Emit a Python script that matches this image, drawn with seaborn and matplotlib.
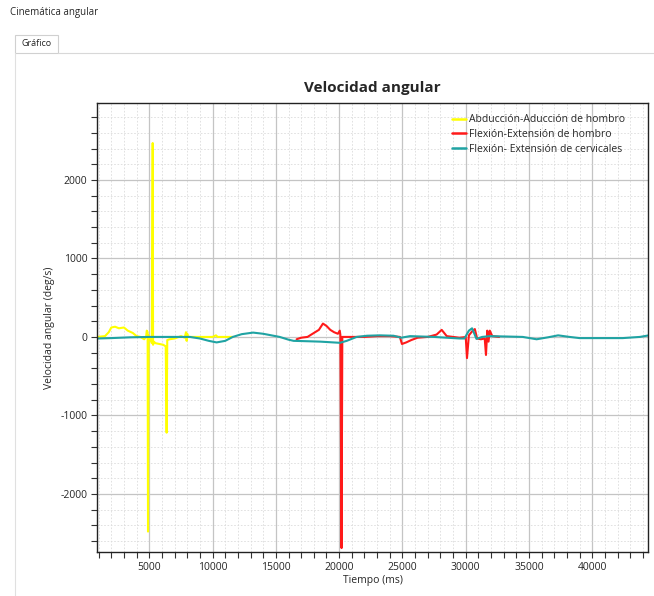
import numpy as np
import pandas as pd
import matplotlib
matplotlib.use("Agg")
import matplotlib.pyplot as plt
from matplotlib.ticker import MultipleLocator
from matplotlib.lines import Line2D
from matplotlib.patches import Rectangle
import seaborn as sns

# series: Abducción-Aducción de hombro
abd_t = [900, 1500, 1800, 2000, 2300, 2600, 3000, 3300, 3700, 4000, 4300, 4600, 4750, 4800,
         4870, 4900, 4950, 5200, 5270, 5300, 5350, 5500, 5800, 6100, 6300, 6370, 6420, 6600,
         7000, 7500, 7800, 7900, 7950, 8000, 8050, 8200, 9000, 10000, 10270, 10400, 11000, 11600]
abd_v = [0, 10, 60, 120, 130, 110, 120, 80, 50, 10, 0, -30, 0, 80,
         60, -2480, 20, -80, 2470, -100, -60, -80, -90, -100, -120, -1220, -40, -30,
         -20, 10, -10, 60, -50, 40, 0, 0, 0, 0, 20, 0, 0, 0]

# series: Flexión-Extensión de hombro
flex_t = [16640, 17000, 17500, 18000, 18400, 18720, 19000, 19300, 19600, 19900, 20050, 20100,
          20190, 20250, 20400, 21000, 22000, 23000, 24000, 24800, 24960, 25300, 25700, 26200,
          27000, 27700, 28100, 28500, 29000, 29500, 29800, 30000, 30100, 30250, 30500, 30720,
          30900, 31200, 31500, 31600, 31700, 31800, 31900, 32100, 32640]
flex_v = [-30, -10, 0, 50, 90, 170, 140, 90, 60, 40, 80, 20,
          -2690, 0, 0, 0, 0, 10, 10, 0, -90, -70, -40, -10,
          0, 30, 90, 10, 0, -10, -5, 0, -270, 20, 70, 100,
          -20, -30, -20, -230, 80, -60, 80, 10, 0]

# series: Flexión- Extensión de cervicales
cerv_t = [900, 2000, 3500, 5000, 6000, 7000, 8200, 9000, 9700, 10320, 11000, 11600, 12300,
          13200, 14000, 15300, 16000, 16400, 17500, 18500, 20060, 20600, 21380, 22200, 23200,
          24300, 24900, 25600, 26500, 27500, 28500, 29540, 29900, 30250, 30500, 30850, 31300,
          31900, 33250, 34500, 35600, 36500, 37300, 38200, 39000, 40500, 42400, 43760, 44470]
cerv_v = [-20, -15, -5, 0, 0, 0, 0, -20, -50, -70, -50, 0, 35,
          55, 40, 0, -35, -50, -55, -60, -75, -50, 0, 15, 20,
          15, -10, 10, 5, 0, -10, -20, -20, 80, 110, -25, 0,
          10, 5, 0, -30, -5, 20, 0, -15, -15, -15, 0, 20]

labels = ["Abducción-Aducción de hombro", "Flexión-Extensión de hombro",
          "Flexión- Extensión de cervicales"]
colors = ["#ffff00", "#ff1a1a", "#1fa3a3"]

df = pd.concat([
    pd.DataFrame({"t": abd_t, "v": abd_v, "serie": labels[0]}),
    pd.DataFrame({"t": flex_t, "v": flex_v, "serie": labels[1]}),
    pd.DataFrame({"t": cerv_t, "v": cerv_v, "serie": labels[2]}),
])

sns.set_theme(style="white")
plt.rcParams["font.family"] = ["Open Sans", "DejaVu Sans"]
plt.rcParams["axes.unicode_minus"] = False

fig = plt.figure(figsize=(6.54, 5.96), dpi=100)
ax = fig.add_axes([97 / 654, 44 / 596, 551 / 654, 449 / 596])

sns.lineplot(data=df, x="t", y="v", hue="serie", palette=dict(zip(labels, colors)),
             sort=False, estimator=None, linewidth=1.5, ax=ax, legend=False)

ax.set_xlim(870, 44400)
ax.set_ylim(-2740, 2980)
ax.xaxis.set_major_locator(MultipleLocator(5000))
ax.xaxis.set_minor_locator(MultipleLocator(1000))
ax.yaxis.set_major_locator(MultipleLocator(1000))
ax.yaxis.set_minor_locator(MultipleLocator(200))
ax.grid(which="major", color="#c4c4c4", linewidth=0.9, linestyle="-")
ax.grid(which="minor", color="#dcdcdc", linewidth=0.6, linestyle=(0, (2, 2)))
ax.set_axisbelow(True)
ax.tick_params(which="both", direction="out", length=4, width=0.8, color="#333333",
               labelsize=7.5, left=True, bottom=True, pad=3)
for s in ax.spines.values():
    s.set_color("#222222")
    s.set_linewidth(1.0)

ax.set_title("Velocidad angular", fontsize=11, fontweight="bold", pad=8)
ax.set_xlabel("Tiempo (ms)", fontsize=7.5, labelpad=2)
ax.set_ylabel("Velocidad angular (deg/s)", fontsize=7.5, labelpad=4)

handles = [Line2D([0], [0], color=c, lw=1.8) for c in colors]
ax.legend(handles, labels, loc="upper left", bbox_to_anchor=(0.645, 0.975), frameon=False,
          fontsize=7.5, handlelength=1.3, handletextpad=0.25, labelspacing=0.35,
          borderpad=0, borderaxespad=0)

# window chrome
fig.text(10 / 654, 1 - 12 / 596, "Cinemática angular", fontsize=7, va="center", ha="left")
fig.patches.append(Rectangle((15 / 654, 1 - 53 / 596), 43 / 654, 18 / 596,
                             transform=fig.transFigure, facecolor="white",
                             edgecolor="#d0d0d0", linewidth=0.8))
fig.text(21 / 654, 1 - 44 / 596, "Gráfico", fontsize=6.5, va="center", ha="left")
fig.lines.append(Line2D([58 / 654, 1], [1 - 53 / 596, 1 - 53 / 596],
                        transform=fig.transFigure, color="#d8d8d8", lw=0.8))
fig.lines.append(Line2D([15 / 654, 15 / 654], [0, 1 - 53 / 596],
                        transform=fig.transFigure, color="#e0e0e0", lw=0.8))

fig.savefig("out.png", dpi=100)
